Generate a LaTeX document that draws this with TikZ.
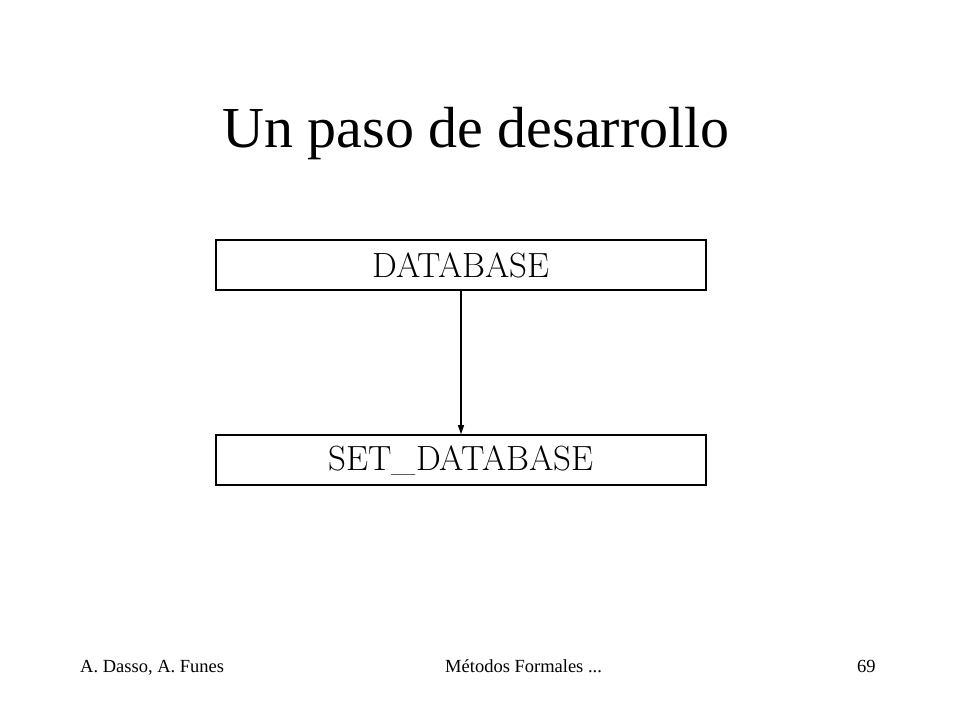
\documentclass[tikz,border=0pt]{standalone}
\usepackage{fontspec}
\newfontfamily\slidefont{Liberation Serif}
\usetikzlibrary{arrows.meta}
\usetikzlibrary{positioning}

\begin{document}
\begin{tikzpicture}[
		x=1pt,
		y=1pt,
		>=Triangle,
	]
		\tikzset{classbox/.style={
			draw,
			rectangle,
			line width=1.6,
			minimum width=490,
			minimum height=50,
			inner sep=0,
			font=\fontsize{35pt}{37pt}\selectfont,
		}}
		\tikzset{footer/.style={
			anchor=base west,
			inner sep=0,
			font=\slidefont\fontsize{18.5pt}{20pt}\selectfont,
		}}

		\useasboundingbox (0,0) rectangle (960,-720);

		\node[font=\slidefont\fontsize{58pt}{60pt}\selectfont] (title) at (476,-134) {Un paso de desarrollo};

		\node[classbox] (db) at (461,-265) {DATABASE};
		\node[classbox] (setdb) at (461,-460) {SET\_DATABASE};

		\draw[->, line width=1.2, >={Triangle[length=9,width=6]}] (db) -- (setdb);

		\node[footer] (authors) at (80,-672) {A. Dasso, A. Funes};
		\node[footer] (course) at (445,-672) {Métodos Formales ...};
		\node[footer] (page) at (857,-672) {69};
	\end{tikzpicture}
\end{document}
